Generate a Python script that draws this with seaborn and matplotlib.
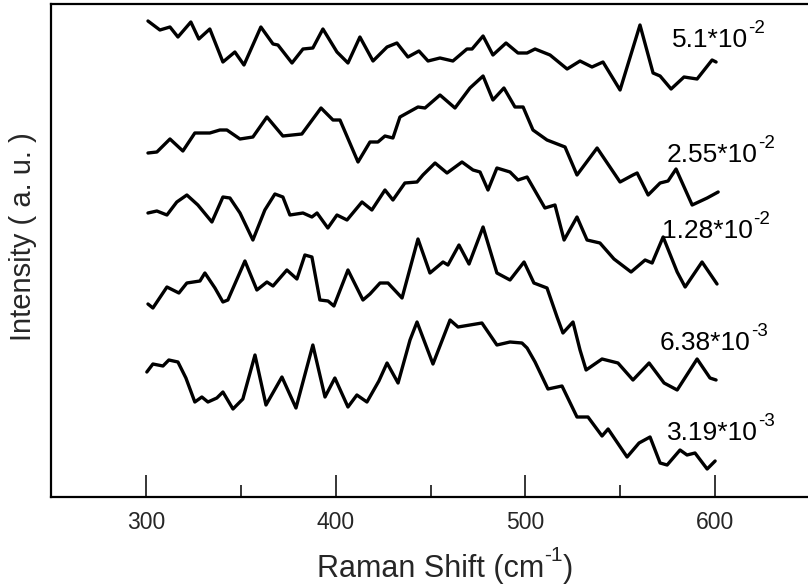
import numpy as np
import pandas as pd
import matplotlib
matplotlib.use("Agg")
import matplotlib.pyplot as plt
import seaborn as sns

# ---- data (Raman shift in cm^-1, intensity in arbitrary units, stacked) ----
shift_1 = [301.1, 307.4, 312.7, 316.9, 323.7, 327.9, 333.7, 340.6, 346.9, 351.7, 360.6, 367.0, 369.6, 377.0,
           382.8, 388.0, 393.3, 400.7, 406.5, 412.8, 419.7, 427.1, 432.3, 438.1, 443.9, 448.7, 455.0, 461.8,
           469.2, 471.9, 477.7, 482.9, 489.8, 496.1, 500.9, 505.1, 513.0, 522.0, 528.8, 535.1, 540.9, 549.9,
           560.4, 567.3, 571.0, 576.8, 583.6, 590.5, 598.4, 600.5]
inten_1 = [476, 467, 470, 460, 475, 458, 468, 435, 445, 432, 470, 453, 452, 434,
           448, 449, 468, 445, 434, 460, 436, 450, 454, 440, 446, 436, 439, 436,
           448, 448, 461, 442, 454, 444, 444, 448, 442, 428, 436, 430, 435, 407,
           472, 424, 421, 408, 420, 418, 437, 435]

shift_2 = [301.1, 305.8, 312.7, 319.5, 325.8, 333.7, 339.0, 342.7, 349.6, 356.4, 363.8, 372.2, 382.2, 392.3,
           398.6, 402.3, 411.8, 418.1, 422.3, 426.0, 430.2, 433.9, 443.4, 447.1, 455.0, 462.9, 470.8, 477.7,
           482.9, 488.7, 494.5, 498.8, 504.0, 511.4, 520.9, 527.2, 537.8, 549.9, 556.7, 558.9, 564.7, 571.0,
           575.2, 579.4, 587.9, 595.8, 601.6]
inten_2 = [344, 345, 358, 346, 364, 364, 367, 367, 358, 360, 380, 361, 363, 389,
           377, 377, 335, 355, 355, 361, 359, 380, 390, 389, 402, 389, 409, 421,
           397, 409, 390, 390, 367, 357, 350, 322, 349, 315, 322, 324, 302, 314,
           316, 328, 292, 299, 305]

shift_3 = [301.1, 305.8, 311.1, 316.3, 321.6, 327.4, 334.8, 340.6, 344.3, 349.6, 356.4, 362.7, 368.0, 372.2,
           375.9, 382.8, 387.5, 390.2, 395.9, 400.7, 406.0, 413.9, 419.1, 426.0, 430.2, 436.5, 442.9, 446.0,
           452.4, 458.7, 466.6, 472.4, 476.1, 480.3, 485.0, 491.9, 496.1, 500.9, 510.3, 515.6, 520.4, 527.2,
           532.5, 539.3, 546.7, 555.7, 563.1, 566.8, 572.6, 580.0, 584.2, 593.1, 601.0]
inten_3 = [284, 286, 282, 295, 302, 292, 275, 300, 299, 284, 257, 287, 303, 300,
           282, 284, 280, 284, 269, 282, 277, 295, 287, 307, 297, 314, 315, 322,
           334, 324, 335, 327, 325, 307, 329, 325, 317, 320, 289, 292, 257, 280,
           257, 254, 238, 225, 237, 234, 260, 225, 210, 235, 213]

shift_4 = [301.1, 303.7, 311.1, 317.4, 321.6, 328.5, 331.1, 336.4, 340.6, 343.2, 352.2, 358.5, 363.8, 367.0,
           374.3, 379.6, 383.8, 387.5, 391.7, 396.0, 399.1, 406.5, 414.4, 418.1, 423.4, 427.6, 435.0, 443.4,
           449.7, 456.6, 459.2, 465.0, 470.3, 477.7, 485.0, 491.9, 499.3, 504.5, 511.4, 516.7, 519.8, 525.1,
           528.8, 532.0, 540.4, 548.8, 556.7, 565.2, 573.1, 580.0, 590.5, 597.3, 600.5]
inten_4 = [193, 189, 210, 204, 214, 216, 224, 209, 195, 197, 236, 207, 215, 211,
           227, 218, 242, 240, 197, 196, 191, 227, 197, 203, 214, 214, 199, 258,
           224, 235, 232, 252, 233, 270, 224, 217, 235, 214, 209, 180, 164, 175,
           147, 127, 138, 134, 117, 134, 114, 107, 138, 119, 117]

shift_5 = [300.5, 303.7, 309.0, 312.1, 316.9, 321.1, 325.8, 329.5, 332.7, 337.4, 340.6, 345.9, 351.1, 357.5,
           363.3, 371.7, 379.1, 388.0, 394.4, 399.6, 406.5, 411.2, 416.5, 422.8, 427.1, 432.9, 439.2, 442.9,
           451.3, 460.3, 464.5, 477.1, 485.0, 491.9, 498.2, 500.9, 505.1, 511.9, 519.3, 527.2, 533.0, 540.4,
           543.6, 553.6, 559.9, 565.7, 571.0, 574.7, 581.5, 585.2, 589.4, 595.8, 600.0]
inten_5 = [125, 133, 131, 137, 135, 119, 95, 100, 95, 99, 105, 88, 98, 142,
           92, 120, 89, 152, 100, 119, 90, 102, 95, 116, 134, 114, 157, 175,
           133, 177, 170, 174, 152, 155, 154, 149, 135, 108, 111, 80, 80, 61,
           68, 40, 54, 60, 34, 32, 47, 42, 44, 28, 36]

label_base = ["5.1*10", "2.55*10", "1.28*10", "6.38*10", "3.19*10"]
label_exp = ["-2", "-2", "-2", "-3", "-3"]
label_x = [577.3, 574.7, 572.0, 571.0, 574.7]
label_y = [450, 335, 259, 147, 57]

major_ticks = [300, 400, 500, 600]
minor_ticks = [350, 450, 550]

# ---- assemble long table ----
series_names = [b + "^" + e for b, e in zip(label_base, label_exp)]
shifts = [shift_1, shift_2, shift_3, shift_4, shift_5]
intens = [inten_1, inten_2, inten_3, inten_4, inten_5]
frames = []
for lab, s, v in zip(series_names, shifts, intens):
    frames.append(pd.DataFrame({"shift": s, "intensity": v, "series": lab}))
df = pd.concat(frames, ignore_index=True)

sns.set_style("ticks")
plt.rcParams["font.family"] = ["Liberation Sans", "DejaVu Sans"]

W, H = 808, 588
fig = plt.figure(figsize=(W / 100, H / 100), dpi=100)
left_px, right_px, top_px, bottom_px = 51, 810, 4, 497
ax = fig.add_axes([left_px / W, 1 - bottom_px / H, (right_px - left_px) / W, (bottom_px - top_px) / H])

sns.lineplot(data=df, x="shift", y="intensity", hue="series", units="series", estimator=None,
             palette=["black"] * 5, legend=False, linewidth=2.4, ax=ax, sort=True)
for line in ax.get_lines():
    line.set_solid_joinstyle("round")
    line.set_solid_capstyle("round")

ax.set_xlim(250, 650)
ax.set_ylim(0, 493)
ax.set_yticks([])
ax.set_xticks(major_ticks)
ax.set_xticks(minor_ticks, minor=True)
ax.tick_params(axis="x", which="major", direction="in", length=16, width=1.3, labelsize=16.5, pad=10)
ax.tick_params(axis="x", which="minor", direction="in", length=8.5, width=1.3)

for sp in ["left", "bottom", "top"]:
    ax.spines[sp].set_linewidth(1.6)
    ax.spines[sp].set_color("black")
ax.spines["right"].set_visible(False)

# curve labels with a superscript exponent (hyphen-style minus as in the original)
for base, ex, lx, ly in zip(label_base, label_exp, label_x, label_y):
    t = ax.text(lx, ly, base, fontsize=19, ha="left", va="baseline", color="black")
    ax.annotate(ex, xy=(1.0, 0.62), xycoords=t, fontsize=13.5, ha="left", va="bottom", color="black")

# x label: main text, superscript, closing parenthesis
ax.set_xlabel("")
xl = fig.text(317 / W, 1 - 577 / H, "Raman Shift (cm", fontsize=22, ha="left", va="baseline")
sup = fig.text(0, 0, "")
sup = ax.annotate("-1", xy=(1.0, 0.62), xycoords=xl, fontsize=15, ha="left", va="bottom",
                  annotation_clip=False)
ax.annotate(")", xy=(1.0, 0.0), xycoords=(sup, xl), fontsize=22, ha="left", va="bottom",
            annotation_clip=False)

ax.set_ylabel("Intensity ( a. u. )", fontsize=21)
ax.yaxis.set_label_coords((37 - left_px) / (right_px - left_px), (bottom_px - 237) / (bottom_px - top_px))

fig.savefig("out.png", dpi=100)
